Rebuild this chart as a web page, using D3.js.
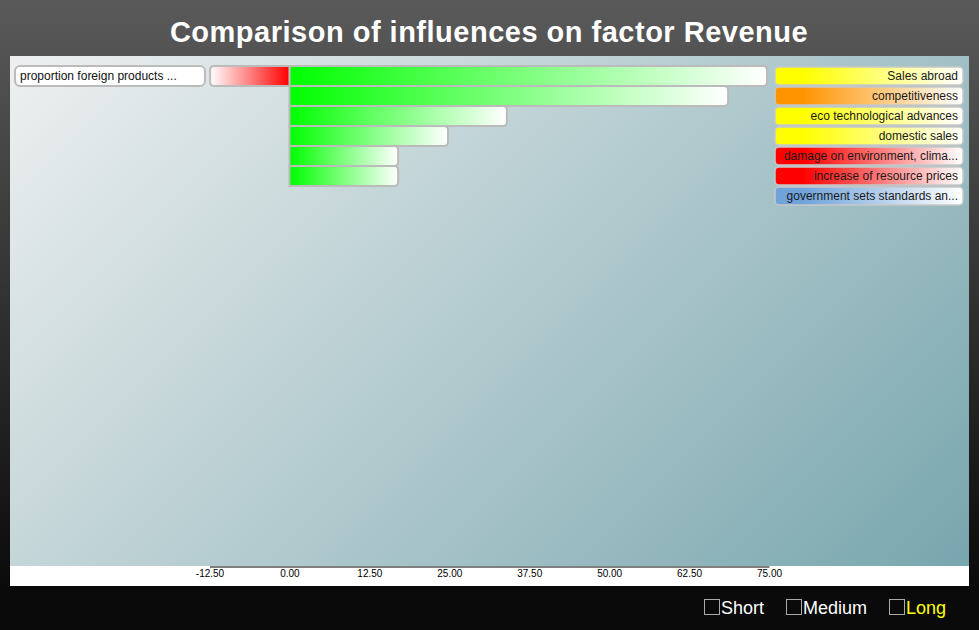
<!DOCTYPE html>
<html><head><meta charset="utf-8">
<script src="https://cdn.jsdelivr.net/npm/d3@7"></script>
<style>
html,body{margin:0;padding:0;background:#0a0a0a;}
svg{display:block;font-family:"Liberation Sans",Arial,Helvetica,sans-serif;}
</style></head>
<body>
<script>
// ---- data ----
const titleText = "Comparison of influences on factor Revenue";
const posLabels = ["Sales abroad","competitiveness","eco technological advances","domestic sales","damage on environment, clima...","increase of resource prices","government sets standards an..."];
const posValues = [74.7, 68.6, 34.0, 24.8, 17.0, 17.0, 0];
const posColors = ["#ffff00","#ff9400","#ffff00","#ffff00","#ff0000","#ff0000","#6fa3da"];
const negLabels = ["proportion foreign products ..."];
const negValues = [-12.4];
const tickValues = [-12.5, 0, 12.5, 25, 37.5, 50, 62.5, 75];
const horizons = ["Short","Medium","Long"];
const selectedHorizon = "Long";

const W = 979, H = 630;
const svg = d3.select("body").append("svg").attr("width", W).attr("height", H);
const defs = svg.append("defs");

// backgrounds
const bgG = defs.append("linearGradient").attr("id","bgG").attr("x1",0).attr("y1",0).attr("x2",0).attr("y2",1);
bgG.append("stop").attr("offset",0).attr("stop-color","#5a5a5a");
bgG.append("stop").attr("offset",1).attr("stop-color","#0b0b0b");
svg.append("rect").attr("x",0).attr("y",0).attr("width",W).attr("height",586).attr("fill","url(#bgG)");
svg.append("rect").attr("x",0).attr("y",586).attr("width",W).attr("height",H-586).attr("fill","#0a0a0a");

const plot = {x:10, y:56, w:959, h:510};
const L = (plot.w + plot.h) / 2;
const plotG = defs.append("linearGradient").attr("id","plotG").attr("gradientUnits","userSpaceOnUse")
  .attr("x1",plot.x).attr("y1",plot.y).attr("x2",plot.x+L).attr("y2",plot.y+L);
plotG.append("stop").attr("offset",0).attr("stop-color","#eef0f0");
plotG.append("stop").attr("offset",1).attr("stop-color","#78a6ae");
svg.append("rect").attr("x",plot.x).attr("y",plot.y).attr("width",plot.w).attr("height",plot.h).attr("fill","url(#plotG)");
svg.append("rect").attr("x",plot.x).attr("y",566).attr("width",plot.w).attr("height",20).attr("fill","#ffffff");

// title
svg.append("text").attr("x",489).attr("y",42).attr("text-anchor","middle")
  .attr("fill","#fff").attr("font-size",29).attr("letter-spacing",0.5).attr("font-weight","bold").text(titleText);

// scales
const x = d3.scaleLinear().domain([-12.5, 75]).range([209.5, 769]);
const rows = d3.range(posLabels.length);
const y = d3.scaleBand().domain(rows).range([66, 66 + 20*rows.length]).padding(0);

// gradients for bars
const gPos = defs.append("linearGradient").attr("id","gPos").attr("x1",0).attr("x2",1).attr("y1",0).attr("y2",0);
gPos.append("stop").attr("offset",0).attr("stop-color","#00ff00");
gPos.append("stop").attr("offset",1).attr("stop-color","#ffffff");
const gNeg = defs.append("linearGradient").attr("id","gNeg").attr("x1",0).attr("x2",1).attr("y1",0).attr("y2",0);
gNeg.append("stop").attr("offset",0).attr("stop-color","#ffffff");
gNeg.append("stop").attr("offset",1).attr("stop-color","#ff0000");

function barPath(xa, xb, y0, y1, roundRight, r){
  if (roundRight) {
    return `M${xa},${y0}H${xb-r}Q${xb},${y0} ${xb},${y0+r}V${y1-r}Q${xb},${y1} ${xb-r},${y1}H${xa}Z`;
  } else {
    return `M${xb},${y0}H${xa+r}Q${xa},${y0} ${xa},${y0+r}V${y1-r}Q${xa},${y1} ${xa+r},${y1}H${xb}Z`;
  }
}

// positive bars
const posData = posValues.map((v,i)=>({v,i})).filter(d=>d.v>0);
svg.append("g").selectAll("path").data(posData).join("path")
  .attr("d", d => barPath(x(0), x(d.v), y(d.i), y(d.i)+y.bandwidth(), true, 4))
  .attr("fill","url(#gPos)").attr("stroke","#bbbbbb").attr("stroke-width",2);

// negative bars
const negData = negValues.map((v,i)=>({v,i}));
svg.append("g").selectAll("path").data(negData).join("path")
  .attr("d", d => barPath(x(d.v), x(0), y(d.i), y(d.i)+y.bandwidth(), false, 4))
  .attr("fill","url(#gNeg)").attr("stroke","#bbbbbb").attr("stroke-width",2);

// left labels
const leftG = svg.append("g").selectAll("g").data(negLabels).join("g");
leftG.append("rect").attr("x",15).attr("y",(d,i)=>y(i)).attr("width",190).attr("height",y.bandwidth())
  .attr("rx",5).attr("fill","#ffffff").attr("stroke","#bbbbbb").attr("stroke-width",2);
leftG.append("text").attr("x",20).attr("y",(d,i)=>y(i)+14).attr("font-size",12).attr("fill","#111").text(d=>d);

// right legend
posColors.forEach((c,i)=>{
  const g = defs.append("linearGradient").attr("id","lg"+i).attr("x1",0).attr("x2",1).attr("y1",0).attr("y2",0);
  g.append("stop").attr("offset",0).attr("stop-color",c);
  g.append("stop").attr("offset",0.15).attr("stop-color",c);
  g.append("stop").attr("offset",1).attr("stop-color","#ffffff");
});
const rightG = svg.append("g").selectAll("g").data(posLabels).join("g");
rightG.append("rect").attr("x",775).attr("y",(d,i)=>y(i)+1).attr("width",188).attr("height",y.bandwidth()-2)
  .attr("rx",4).attr("fill",(d,i)=>`url(#lg${i})`).attr("stroke","#c8c8c8").attr("stroke-width",1.5);
rightG.append("text").attr("x",958).attr("y",(d,i)=>y(i)+14).attr("text-anchor","end")
  .attr("font-size",12).attr("fill","#1a1a1a").text(d=>d);

// axis
const axis = d3.axisBottom(x).tickValues(tickValues).tickSize(0).tickPadding(3).tickSizeOuter(0)
  .tickFormat(d => d.toFixed(2));
const ax = svg.append("g").attr("transform","translate(0,566.5)").call(axis);
ax.select(".domain").attr("stroke","#000").attr("stroke-width",1);
ax.selectAll("text").attr("font-size",10).attr("fill","#000").attr("font-family","'Liberation Sans',Arial,sans-serif");

// horizon checkboxes
const hx = [704, 786, 889];
const hg = svg.append("g").selectAll("g").data(horizons).join("g");
hg.append("rect").attr("x",(d,i)=>hx[i]+0.5).attr("y",599.5).attr("width",15).attr("height",15)
  .attr("fill","none").attr("stroke","#aaaaaa").attr("stroke-width",1);
hg.append("text").attr("x",(d,i)=>hx[i]+17).attr("y",613.5).attr("font-size",18)
  .attr("fill",d=>d===selectedHorizon?"#ffff00":"#ffffff").text(d=>d);
</script>
</body></html>
